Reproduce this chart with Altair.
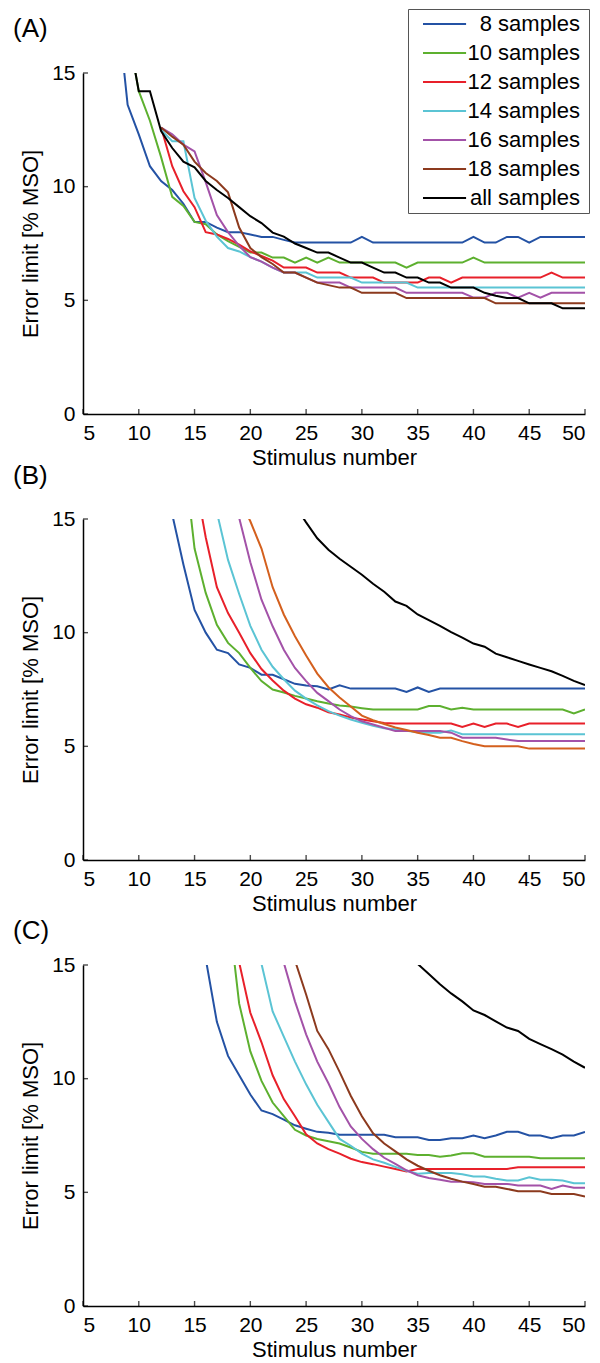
import altair as alt
import pandas as pd

FONT = "Liberation Sans"
SERIES = ["8 samples", "10 samples", "12 samples", "14 samples",
          "16 samples", "18 samples", "all samples"]
X_TICKS = [5, 10, 15, 20, 25, 30, 35, 40, 45, 50]
Y_TICKS = [0, 5, 10, 15]

COLORS_AC = ["#2452a4", "#5db02f", "#e8202a", "#5bc4d4", "#a352a8", "#8c3a1e", "#000000"]
COLORS_B = ["#2452a4", "#5db02f", "#e8202a", "#5bc4d4", "#a352a8", "#d4601e", "#000000"]

# ---------------- Panel A (first stimulus number of each series, then values)
A_START = [8, 9, 12, 12, 12, 12, 9]
A_8 = [18.3, 13.6, 12.3, 10.9, 10.25,
       9.85, 9.25, 8.45, 8.45, 8.2,
       8.0, 8.0, 7.9, 7.79, 7.79,
       7.66, 7.54, 7.54, 7.54, 7.54,
       7.54, 7.54, 7.79, 7.54, 7.54,
       7.54, 7.54, 7.54, 7.54, 7.54,
       7.54, 7.54, 7.79, 7.54, 7.54,
       7.79, 7.79, 7.54, 7.79, 7.79,
       7.79, 7.79, 7.79]
A_10 = [16.9, 14.2, 12.9, 11.3, 9.55,
        9.15, 8.45, 8.35, 7.9, 7.6,
        7.35, 7.1, 7.1, 6.88, 6.88,
        6.66, 6.88, 6.66, 6.88, 6.66,
        6.66, 6.66, 6.66, 6.66, 6.66,
        6.44, 6.66, 6.66, 6.66, 6.66,
        6.66, 6.88, 6.66, 6.66, 6.66,
        6.66, 6.66, 6.66, 6.66, 6.66,
        6.66, 6.66]
A_12 = [12.6, 10.9, 9.8, 9.1, 8.0,
        7.9, 7.7, 7.45, 7.15, 6.95,
        6.75, 6.44, 6.44, 6.44, 6.22,
        6.22, 6.22, 6.0, 6.0, 6.0,
        5.78, 5.78, 5.78, 5.78, 6.0,
        6.0, 5.78, 6.0, 6.0, 6.0,
        6.0, 6.0, 6.0, 6.0, 6.0,
        6.22, 6.0, 6.0, 6.0]
A_14 = [12.5, 12.0, 12.0, 9.5, 8.5,
        7.8, 7.3, 7.15, 6.9, 6.7,
        6.44, 6.22, 6.22, 6.22, 6.0,
        6.0, 6.0, 6.0, 5.78, 5.78,
        5.78, 5.78, 5.78, 5.56, 5.56,
        5.56, 5.56, 5.56, 5.56, 5.56,
        5.56, 5.56, 5.56, 5.56, 5.56,
        5.56, 5.56, 5.56, 5.56]
A_16 = [12.6, 12.3, 11.85, 11.55, 10.2,
        8.75, 8.0, 7.4, 6.9, 6.7,
        6.44, 6.22, 6.22, 6.0, 5.78,
        5.78, 5.78, 5.56, 5.56, 5.56,
        5.56, 5.56, 5.33, 5.33, 5.33,
        5.33, 5.33, 5.33, 5.12, 5.12,
        5.33, 5.33, 5.12, 5.33, 5.12,
        5.33, 5.33, 5.33, 5.33]
A_18 = [12.6, 12.2, 11.85, 11.1, 10.6,
        10.25, 9.75, 8.2, 7.3, 6.9,
        6.6, 6.22, 6.22, 6.0, 5.78,
        5.67, 5.56, 5.56, 5.33, 5.33,
        5.33, 5.33, 5.1, 5.1, 5.1,
        5.1, 5.1, 5.1, 5.1, 5.1,
        4.87, 4.87, 4.87, 4.87, 4.87,
        4.87, 4.87, 4.87, 4.87]
A_ALL = [16.9, 14.2, 14.2, 12.45, 11.7,
         11.1, 10.85, 10.25, 9.85, 9.5,
         9.1, 8.7, 8.4, 7.98, 7.8,
         7.5, 7.3, 7.1, 7.1, 6.88,
         6.66, 6.66, 6.44, 6.22, 6.22,
         6.0, 6.0, 5.78, 5.78, 5.56,
         5.56, 5.56, 5.33, 5.2, 5.1,
         5.1, 4.87, 4.87, 4.87, 4.65,
         4.65, 4.65]

# ---------------- Panel B
B_START = [13, 14, 15, 17, 19, 19, 24]
B_8 = [15.2, 13.0, 11.0, 10.0, 9.25,
       9.1, 8.6, 8.45, 8.15, 8.15,
       7.95, 7.75, 7.68, 7.64, 7.5,
       7.68, 7.54, 7.54, 7.54, 7.54,
       7.54, 7.39, 7.59, 7.39, 7.54,
       7.54, 7.54, 7.54, 7.54, 7.54,
       7.54, 7.54, 7.54, 7.54, 7.54,
       7.54, 7.54, 7.54]
B_10 = [18.0, 13.7, 11.75, 10.35, 9.55,
        9.1, 8.45, 7.87, 7.5, 7.37,
        7.22, 7.1, 6.98, 6.88, 6.8,
        6.75, 6.68, 6.62, 6.62, 6.62,
        6.62, 6.62, 6.77, 6.77, 6.62,
        6.7, 6.62, 6.62, 6.62, 6.62,
        6.62, 6.62, 6.62, 6.62, 6.62,
        6.45, 6.62]
B_12 = [16.9, 14.2, 12.0, 10.86, 10.0,
        9.1, 8.4, 7.9, 7.45, 7.1,
        6.85, 6.7, 6.5, 6.4, 6.27,
        6.18, 6.1, 6.03, 6.0, 6.0,
        6.0, 6.0, 6.0, 6.0, 5.85,
        6.0, 5.85, 6.0, 6.0, 5.85,
        6.0, 6.0, 6.0, 6.0, 6.0,
        6.0]
B_14 = [15.3, 13.2, 11.7, 10.3, 9.25,
        8.5, 7.95, 7.45, 7.1, 6.8,
        6.55, 6.35, 6.18, 6.04, 5.9,
        5.8, 5.75, 5.68, 5.62, 5.6,
        5.6, 5.7, 5.53, 5.53, 5.53,
        5.53, 5.53, 5.53, 5.53, 5.53,
        5.53, 5.53, 5.53, 5.53]
B_16 = [15.05, 13.1, 11.45, 10.28, 9.25,
        8.45, 7.87, 7.35, 6.99, 6.62,
        6.33, 6.1, 5.96, 5.82, 5.67,
        5.67, 5.67, 5.67, 5.67, 5.6,
        5.38, 5.38, 5.38, 5.38, 5.3,
        5.23, 5.23, 5.23, 5.23, 5.23,
        5.23, 5.23]
B_18 = [15.9, 14.9, 13.7, 12.0, 10.8,
        9.84, 9.0, 8.2, 7.6, 7.15,
        6.75, 6.35, 6.15, 5.98, 5.83,
        5.72, 5.6, 5.5, 5.38, 5.38,
        5.23, 5.1, 5.0, 5.0, 5.0,
        5.0, 4.9, 4.9, 4.9, 4.9,
        4.9, 4.9]
B_ALL = [15.6, 14.85, 14.15, 13.65, 13.25,
         12.9, 12.55, 12.15, 11.8, 11.37,
         11.18, 10.8, 10.55, 10.3, 10.02,
         9.78, 9.52, 9.38, 9.08, 8.92,
         8.76, 8.6, 8.45, 8.3, 8.1,
         7.88, 7.69]

# ---------------- Panel C
C_START = [16, 18, 19, 21, 23, 24, 35]
C_8 = [15.28, 12.5, 11.0, 10.15, 9.3,
       8.6, 8.44, 8.2, 7.95, 7.8,
       7.66, 7.62, 7.53, 7.53, 7.53,
       7.53, 7.53, 7.42, 7.42, 7.42,
       7.3, 7.3, 7.38, 7.38, 7.5,
       7.38, 7.5, 7.66, 7.66, 7.5,
       7.5, 7.38, 7.5, 7.5, 7.66]
C_10 = [17.55, 13.3, 11.2, 9.9, 8.95,
        8.35, 7.75, 7.5, 7.35, 7.25,
        7.15, 6.97, 6.78, 6.7, 6.7,
        6.7, 6.7, 6.64, 6.64, 6.57,
        6.62, 6.72, 6.72, 6.57, 6.57,
        6.57, 6.57, 6.57, 6.5, 6.5,
        6.5, 6.5, 6.5]
C_12 = [15.11, 12.9, 11.6, 10.15, 9.1,
        8.35, 7.55, 7.15, 6.9, 6.7,
        6.48, 6.33, 6.24, 6.13, 6.03,
        5.92, 6.03, 6.03, 6.03, 6.03,
        6.03, 6.03, 6.03, 6.03, 6.03,
        6.1, 6.1, 6.1, 6.1, 6.1,
        6.1, 6.1]
C_14 = [15.05, 12.96, 11.85, 10.75, 9.75,
        8.85, 8.1, 7.35, 7.05, 6.7,
        6.45, 6.3, 6.12, 5.95, 5.82,
        5.85, 5.85, 5.85, 5.8, 5.7,
        5.7, 5.6, 5.52, 5.52, 5.66,
        5.55, 5.55, 5.52, 5.4, 5.4]
C_16 = [15.1, 13.4, 11.95, 10.75, 9.8,
        8.75, 7.9, 7.35, 6.9, 6.52,
        6.25, 5.97, 5.75, 5.63, 5.55,
        5.47, 5.47, 5.44, 5.37, 5.37,
        5.37, 5.3, 5.3, 5.3, 5.15,
        5.3, 5.2, 5.2]
C_18 = [15.2, 13.7, 12.1, 11.3, 10.3,
        9.25, 8.35, 7.6, 7.15, 6.8,
        6.45, 6.17, 5.95, 5.75, 5.6,
        5.47, 5.37, 5.25, 5.25, 5.15,
        5.05, 5.05, 5.05, 4.93, 4.93,
        4.93, 4.82]
C_ALL = [15.05, 14.6, 14.15, 13.75, 13.4,
         13.0, 12.8, 12.52, 12.25, 12.1,
         11.75, 11.52, 11.3, 11.06, 10.75,
         10.48]


def build(starts, arrays):
    rows = []
    for name, start, vals in zip(SERIES, starts, arrays):
        assert start + len(vals) - 1 == 50, (name, start, len(vals))
        for i, v in enumerate(vals):
            rows.append({"series": name, "stim": start + i, "err": v})
    return pd.DataFrame(rows)


df_a = build(A_START, [A_8, A_10, A_12, A_14, A_16, A_18, A_ALL])
df_b = build(B_START, [B_8, B_10, B_12, B_14, B_16, B_18, B_ALL])
df_c = build(C_START, [C_8, C_10, C_12, C_14, C_16, C_18, C_ALL])
xt_df = pd.DataFrame({"t": X_TICKS})
yt_df = pd.DataFrame({"t": Y_TICKS})

W, H = 502, 341
X_TITLE = "Stimulus number"
Y_TITLE = "Error limit [% MSO]"


def panel(df, label, colors, legend, title_offset, title_dy):
    xs = alt.Scale(domain=[5, 50], nice=False, zero=False)
    ys = alt.Scale(domain=[0, 15], nice=False)
    lines = alt.Chart(df).mark_line(clip=True, strokeWidth=2).encode(
        x=alt.X("stim:Q", scale=xs, title=X_TITLE,
                axis=alt.Axis(values=X_TICKS)),
        y=alt.Y("err:Q", scale=ys, title=Y_TITLE,
                axis=alt.Axis(values=Y_TICKS)),
        color=alt.Color("series:N", scale=alt.Scale(domain=SERIES, range=colors),
                        sort=SERIES, legend=legend),
        detail="series:N",
    )
    xticks = alt.Chart(xt_df).mark_tick(
        orient="vertical", size=5, thickness=1.4, color="black", yOffset=-2.5
    ).encode(x=alt.X("t:Q", scale=xs, title=X_TITLE),
             y=alt.Y(datum=0, scale=ys, title=Y_TITLE))
    yticks = alt.Chart(yt_df).mark_tick(
        orient="horizontal", size=5, thickness=1.4, color="black", xOffset=2.5
    ).encode(y=alt.Y("t:Q", scale=ys, title=Y_TITLE),
             x=alt.X(datum=5, scale=xs, title=X_TITLE))
    return alt.layer(lines, xticks, yticks).properties(
        width=W, height=H,
        title=alt.TitleParams(text=label, anchor="start", frame="group",
                              dx=-70, dy=title_dy, fontSize=26, font=FONT,
                              fontWeight="normal", color="black",
                              offset=title_offset),
    )


legend_a = alt.Legend(
    orient="none", legendX=325, legendY=-64, direction="vertical",
    title=" ", titleOrient="right", titlePadding=5, titleFontSize=10,
    symbolType="M0,0H8", symbolSize=116, symbolStrokeWidth=2, symbolOffset=0,
    labelFont=FONT, labelFontSize=22, labelColor="black",
    labelAlign="right", labelOffset=146,
    padding=4, rowPadding=7.0,
    strokeColor="#555555", fillColor="white",
)

pa = panel(df_a, "(A)", COLORS_AC, legend_a, 0, 33)
pb = panel(df_b, "(B)", COLORS_B, None, 19, 0)
pc = panel(df_c, "(C)", COLORS_AC, None, 10, 0)

chart = alt.vconcat(pa, pb, pc, spacing=105, bounds="flush").resolve_scale(
    color="independent"
).properties(
    padding={"left": 5, "top": 0, "right": 0, "bottom": 0}
).configure_view(stroke=None).configure_axis(
    domainColor="black", domainWidth=1.5, tickSize=0, grid=False,
    labelFont=FONT, labelFontSize=21, labelColor="black", labelPadding=8,
    titleFont=FONT, titleFontSize=22, titleFontWeight="normal", titleColor="black",
).configure_axisX(titlePadding=4).configure_axisY(titlePadding=9)

chart.save("out.html", embed_options={"renderer": "svg", "actions": False})
